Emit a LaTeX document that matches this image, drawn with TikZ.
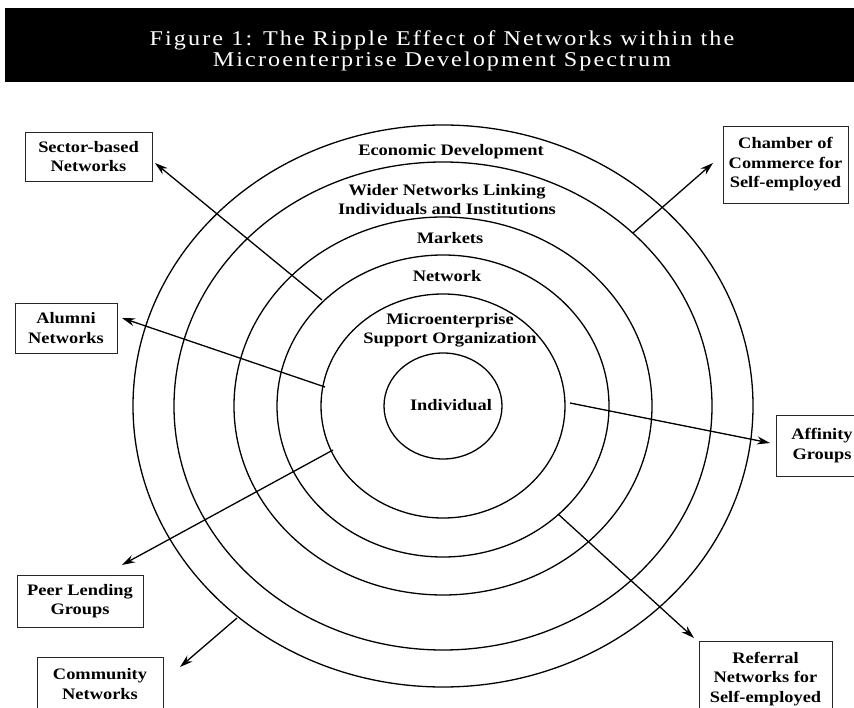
\documentclass[tikz,border=0pt]{standalone}
\usepackage{fontspec}
\setmainfont{Liberation Serif}[FakeStretch=1.15]
\newfontfamily\titlefont{Liberation Serif}[FakeStretch=1.15,LetterSpace=10]
\usetikzlibrary{arrows.meta}
\begin{document}
\begin{tikzpicture}[x=1pt,y=-1pt,
  ring/.style={draw=black, line width=1.3pt},
  lbl/.style={font=\fontsize{16}{19}\selectfont\bfseries, align=center, inner sep=0pt},
  box/.style={draw=black!85, line width=0.9pt, font=\fontsize{16}{19.5}\selectfont\bfseries, align=center, inner sep=0pt},
  arr/.style={line width=1.3pt, -{Stealth[length=13pt,width=8pt]}}]
\useasboundingbox (0,0) rectangle (854,708);
\clip (0,0) rectangle (854,708);
% title bar
\fill[black] (5,8) rectangle (870,82);
\node[text=white, font=\titlefont\fontsize{21}{21}\selectfont, align=center, inner sep=0pt] (title) at (442,51)
  {Figure 1: The Ripple Effect of Networks within the\\Microenterprise Development Spectrum};
% rings
\coordinate (c) at (443,406);
\draw[ring] (c) ellipse [x radius=59pt, y radius=53pt];
\draw[ring] (c) ellipse [x radius=122pt, y radius=112pt];
\draw[ring] (c) ellipse [x radius=166pt, y radius=151pt];
\draw[ring] (c) ellipse [x radius=209pt, y radius=189pt];
\draw[ring] (c) ellipse [x radius=269pt, y radius=244pt];
\draw[ring] (c) ellipse [x radius=310pt, y radius=281pt];
% ring labels
\node[lbl] (eco) at (451,152) {Economic Development};
\node[lbl] (wider) at (447,200) {Wider Networks Linking\\Individuals and Institutions};
\node[lbl] (markets) at (450,238) {Markets};
\node[lbl] (network) at (447,276) {Network};
\node[lbl] (mso) at (450,330) {Microenterprise\\Support Organization};
\node[lbl] (indiv) at (451,405) {Individual};
% boxes
\node[box, minimum width=127pt, minimum height=49pt] (sector) at (88.5,156.5) {Sector-based\\Networks};
\node[box, minimum width=102pt, minimum height=50pt] (alumni) at (66,328) {Alumni\\Networks};
\node[box, minimum width=125pt, minimum height=77pt] (chamber) at (785.5,164.5) {Chamber of\\Commerce for\\Self-employed};
\node[box, minimum width=92pt, minimum height=61pt] (affinity) at (822,445.5) {Affinity\\Groups};
\node[box, minimum width=126pt, minimum height=52pt] (peer) at (80,601) {Peer Lending\\Groups};
\node[box, minimum width=126pt, minimum height=54pt] (community) at (100,684) {Community\\Networks};
\node[box, minimum width=133pt, minimum height=76pt] (referral) at (765.5,679) {Referral\\Networks for\\Self-employed};
% arrow start/end coordinates
\coordinate (s1) at (322,300);  \coordinate (t1) at (155,163);
\coordinate (s2) at (325,387);  \coordinate (t2) at (122,318);
\coordinate (s3) at (633,233);  \coordinate (t3) at (713,163);
\coordinate (s4) at (570,403);  \coordinate (t4) at (770,443);
\coordinate (s5) at (333,450);  \coordinate (t5) at (122,565);
\coordinate (s6) at (237,618);  \coordinate (t6) at (180,667);
\coordinate (s7) at (558,514);  \coordinate (t7) at (694,638);
\draw[arr] (s1) -- (t1);
\draw[arr] (s2) -- (t2);
\draw[arr] (s3) -- (t3);
\draw[arr] (s4) -- (t4);
\draw[arr] (s5) -- (t5);
\draw[arr] (s6) -- (t6);
\draw[arr] (s7) -- (t7);
\end{tikzpicture}
\end{document}
